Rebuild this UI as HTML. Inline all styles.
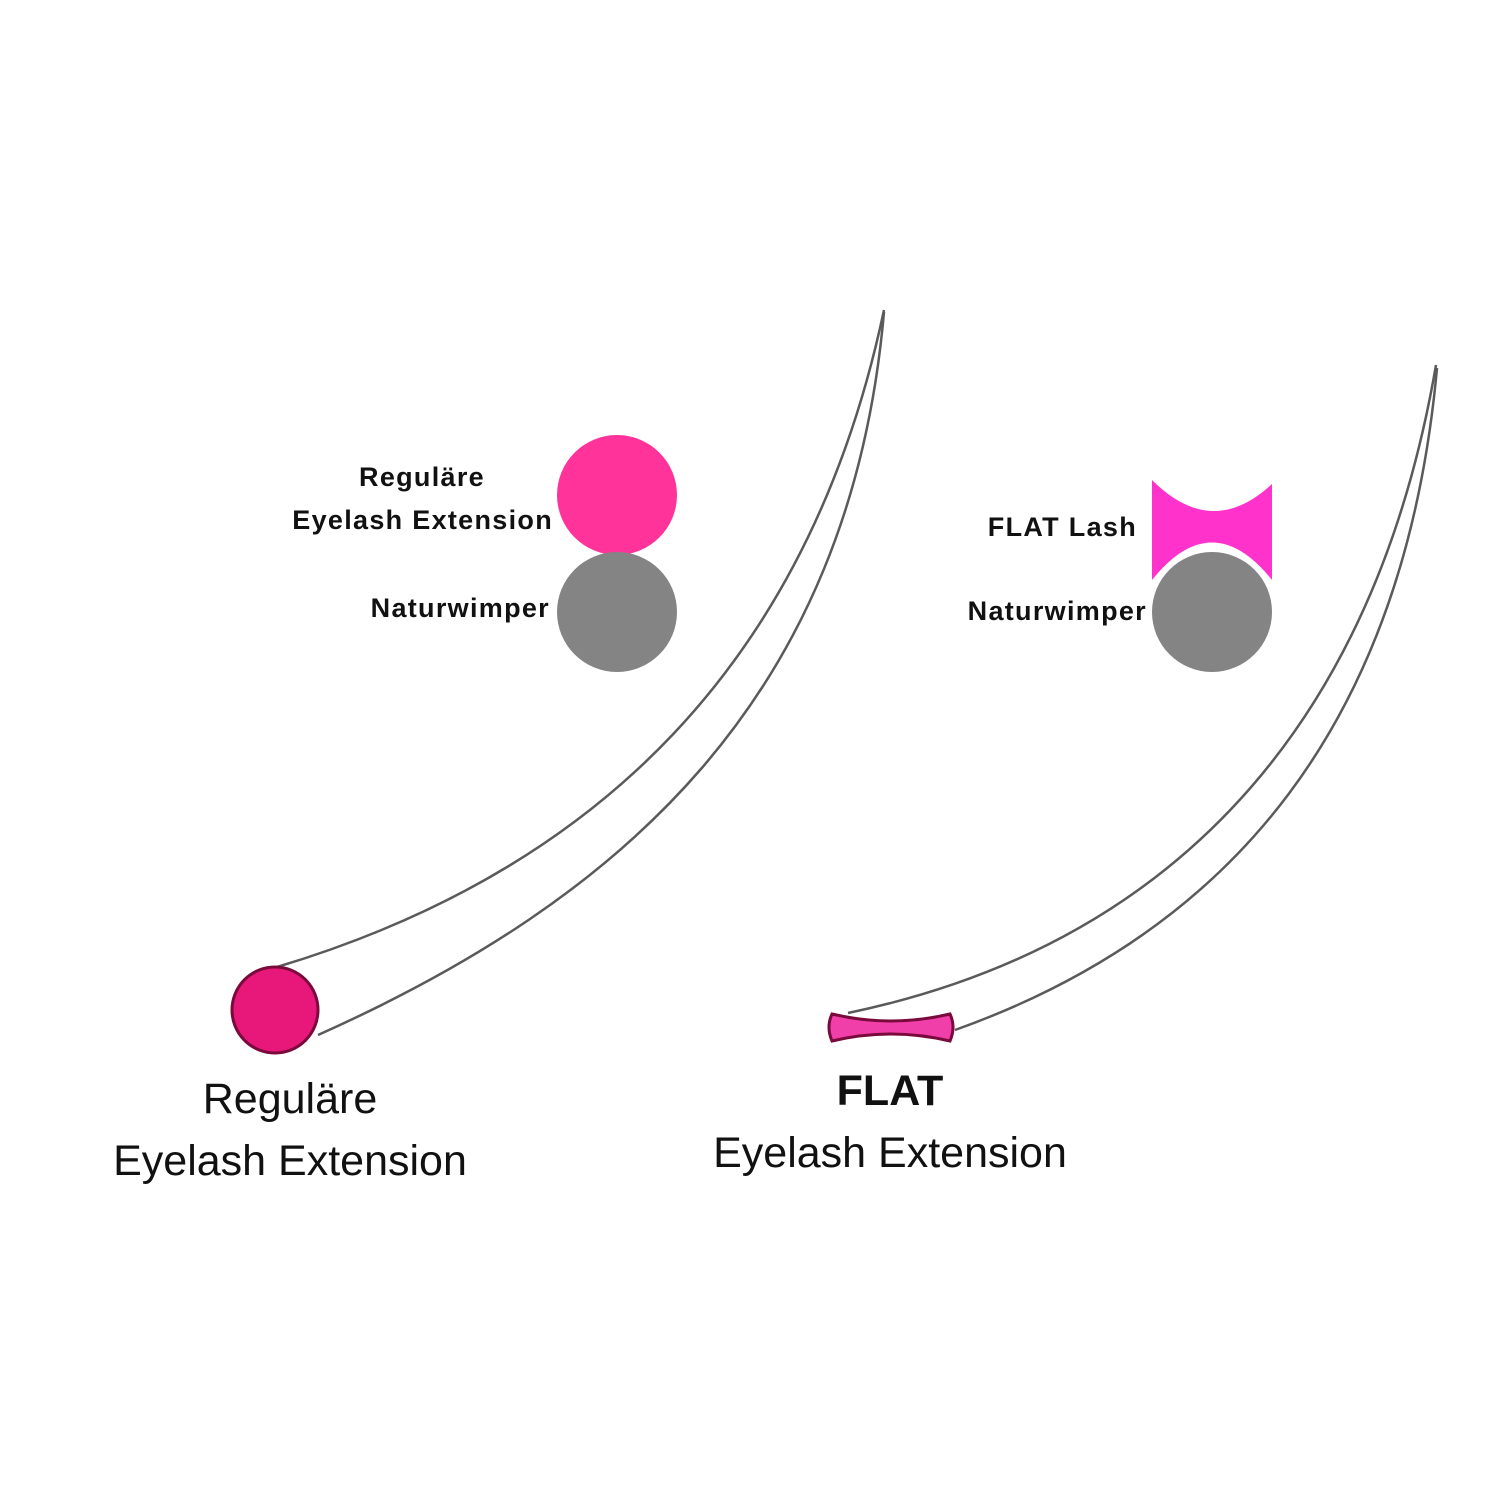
<!DOCTYPE html>
<html><head><meta charset="utf-8"><style>
html,body{margin:0;padding:0;background:#fff;width:1500px;height:1500px;overflow:hidden}
svg{display:block}
text{font-family:"Liberation Sans",sans-serif;fill:#111}
</style></head><body>
<svg width="1500" height="1500" viewBox="0 0 1500 1500" xmlns="http://www.w3.org/2000/svg">
<g fill="none" stroke="#5a5a5a" stroke-width="2.5">
<path d="M277,967 C600,870 810,660 884,310"/>
<path d="M318,1035 C620,900 850,700 884,312"/>
<path d="M848,1013 C1150,950 1370,750 1436,365"/>
<path d="M955,1030 C1235,930 1405,720 1437,368"/>
</g>
<circle cx="617" cy="495" r="60" fill="#ff3399"/>
<circle cx="617" cy="612" r="60" fill="#848484"/>
<path d="M1152,480 Q1212,540 1272,484 L1272,580 Q1212,505 1152,580 Z" fill="#ff33cc"/>
<circle cx="1212" cy="612" r="63" fill="#fff"/>
<circle cx="1212" cy="612" r="60" fill="#848484"/>
<circle cx="275" cy="1010" r="43" fill="#e8177a" stroke="#7a0a3c" stroke-width="3"/>
<path d="M832,1014 Q891,1028 950,1014 Q956,1027 950,1041 Q891,1027 832,1041 Q826,1027 832,1014 Z" fill="#f03fa8" stroke="#7a0a3c" stroke-width="3"/>
<g font-weight="bold" font-size="27" letter-spacing="1.3">
<text x="422" y="486" text-anchor="middle">Reguläre</text>
<text x="553" y="529" text-anchor="end">Eyelash  Extension</text>
<text x="550" y="617" text-anchor="end">Naturwimper</text>
<text x="1137" y="536" text-anchor="end">FLAT Lash</text>
<text x="1147" y="620" text-anchor="end">Naturwimper</text>
</g>
<g font-size="43" text-anchor="middle" fill="#222">
<text x="290" y="1113">Reguläre</text>
<text x="290" y="1175">Eyelash Extension</text>
<text x="890" y="1105" font-weight="bold">FLAT</text>
<text x="890" y="1167">Eyelash Extension</text>
</g>
</svg>
</body></html>
